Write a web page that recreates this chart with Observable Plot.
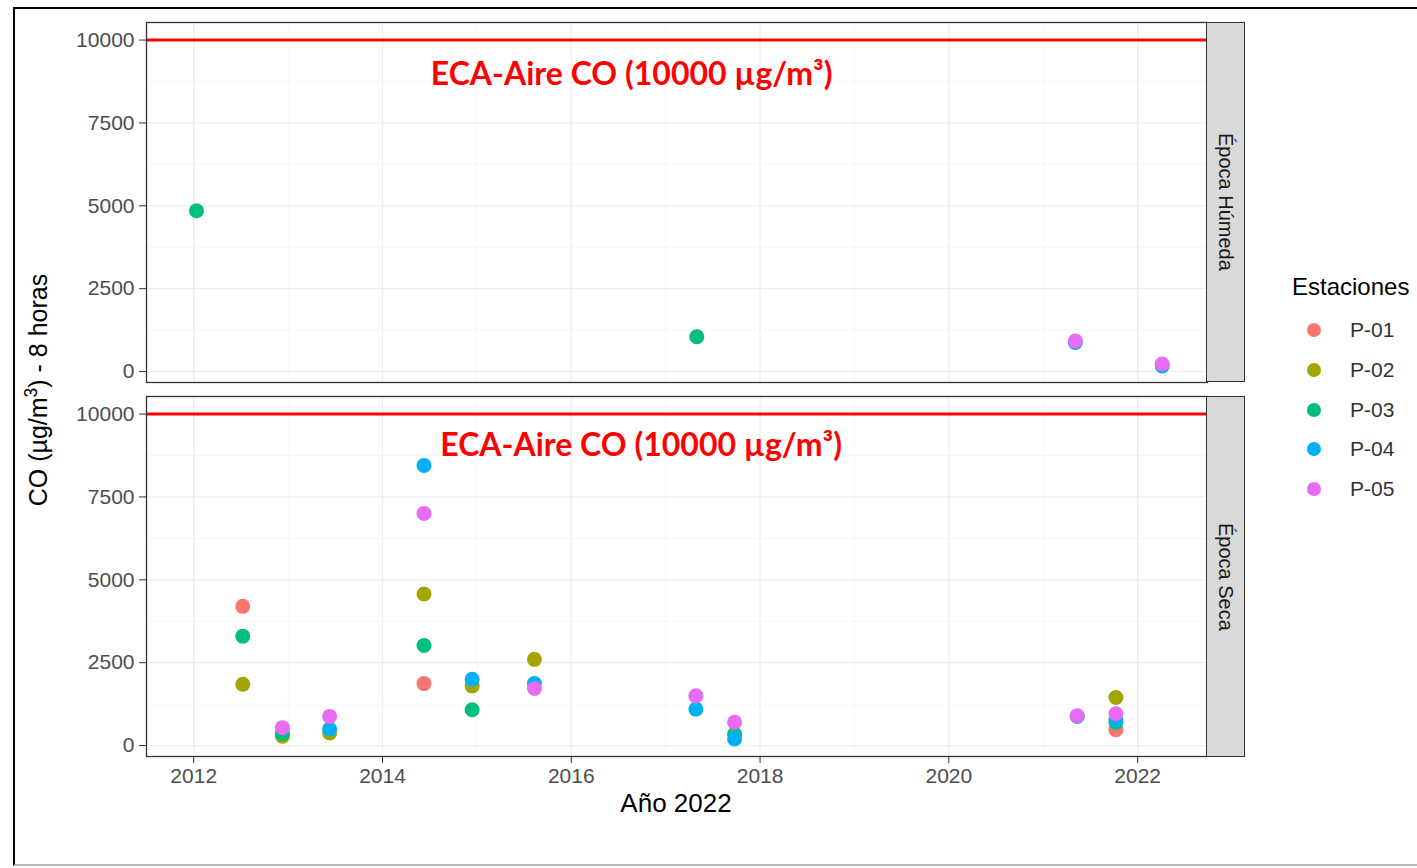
<!DOCTYPE html>
<html><head><meta charset="utf-8">
<script src="https://cdn.jsdelivr.net/npm/d3@7"></script>
<script src="https://cdn.jsdelivr.net/npm/@observablehq/plot@0.6"></script>
<style>
body{margin:0;background:#fff;}
#wrap{position:relative;width:1417px;height:868px;overflow:hidden;font-family:"Liberation Sans",Arial,sans-serif;background:#fff;}
#wrap svg{position:absolute;left:0;top:0;}
.abs{position:absolute;}
.strip{position:absolute;background:#D9D9D9;border:1.3px solid #333;box-sizing:border-box;display:flex;align-items:center;justify-content:center;}
.strip span{writing-mode:vertical-rl;font-size:20px;color:#1A1A1A;white-space:nowrap;}
</style></head><body><div id="wrap"></div>
<script>
// ---- data ----
const stations = ["P-01", "P-02", "P-03", "P-04", "P-05"];
const stationColors = ["#F8766D", "#A3A500", "#00BF7D", "#00B0F6", "#E76BF3"];
const seasons = ["Época Húmeda", "Época Seca"];

const humedaYears = [2012.03, 2017.33, 2021.34, 2022.26];
const humedaP01 = [null, null, null, null];
const humedaP02 = [null, null, null, null];
const humedaP03 = [4850, 1050, null, null];
const humedaP04 = [null, null, 880, 170];
const humedaP05 = [null, null, 920, 230];

const secaYears = [2012.52, 2012.94, 2013.44, 2014.44, 2014.95, 2015.61, 2017.32, 2017.73, 2021.36, 2021.77];
const secaP01 = [4200, null, null, 1870, null, null, null, null, null, 480];
const secaP02 = [1850, 280, 380, 4570, 1800, 2600, null, null, null, 1450];
const secaP03 = [3300, 360, null, 3020, 1080, null, null, 350, null, 700];
const secaP04 = [null, null, 500, 8450, 2000, 1870, 1100, 200, 880, 780];
const secaP05 = [null, 540, 880, 7000, null, 1720, 1500, 700, 900, 960];

const limitValue = 10000;
const limitLabel = "ECA-Aire CO (10000 µg/m³)";
const annotSeason = ["Época Húmeda", "Época Seca"];
const annotX = [2016.64, 2016.74];
const annotY = [8940, 9040];

const xTicks = [2012, 2014, 2016, 2018, 2020, 2022];
const xMinor = [2013, 2015, 2017, 2019, 2021];
const yTicks = [0, 2500, 5000, 7500, 10000];
const yMinor = [1250, 3750, 6250, 8750];

// ---- build tables ----
const humedaVals = [humedaP01, humedaP02, humedaP03, humedaP04, humedaP05];
const secaVals = [secaP01, secaP02, secaP03, secaP04, secaP05];
const rows = [];
stations.forEach((st, k) => {
  humedaVals[k].forEach((v, i) => { if (v != null) rows.push({season: seasons[0], station: st, year: humedaYears[i], value: v}); });
  secaVals[k].forEach((v, i) => { if (v != null) rows.push({season: seasons[1], station: st, year: secaYears[i], value: v}); });
});
rows.sort((a, b) => stations.indexOf(a.station) - stations.indexOf(b.station));
const annot = annotSeason.map((s, i) => ({season: s, x: annotX[i], y: annotY[i], label: limitLabel}));

const chart = Plot.plot({
  width: 1417, height: 868,
  marginLeft: 146, marginRight: 210, marginTop: 22, marginBottom: 111,
  style: {fontFamily: "'Liberation Sans', Arial, sans-serif", background: "transparent", overflow: "visible"},
  x: {domain: [2011.5, 2022.74]},
  y: {domain: [-330, 10530]},
  fy: {domain: seasons, paddingInner: 0.0374, paddingOuter: 0, axis: null, label: null},
  color: {domain: stations, range: stationColors},
  marks: [
    Plot.gridX(xMinor, {stroke: "#F5F5F5", strokeOpacity: 1, strokeWidth: 0.8}),
    Plot.gridY(yMinor, {stroke: "#F5F5F5", strokeOpacity: 1, strokeWidth: 0.8}),
    Plot.gridX(xTicks, {stroke: "#EEEEEE", strokeOpacity: 1, strokeWidth: 1.3}),
    Plot.gridY(yTicks, {stroke: "#EEEEEE", strokeOpacity: 1, strokeWidth: 1.3}),
    Plot.dot(rows, {x: "year", y: "value", fy: "season", fill: "station", r: 7.5}),
    Plot.ruleY([limitValue], {stroke: "#F00", strokeWidth: 3}),
    Plot.text(annot, {x: "x", y: "y", fy: "season", text: "label", fill: "#F00", fontSize: 32, fontWeight: "bold", fontFamily: "Lato"}),
    Plot.frame({stroke: "#333", strokeWidth: 1.3}),
    Plot.axisY(yTicks, {tickSize: 7, tickPadding: 5, fontSize: 21, fill: "#4D4D4D", stroke: "#333", tickFormat: "d", label: null}),
    Plot.axisX(xTicks, {tickSize: 7, tickPadding: 5, fontSize: 21, fill: "#4D4D4D", stroke: "#333", tickFormat: "d", label: null})
  ]
});

const wrap = document.getElementById("wrap");
wrap.appendChild(chart);

// outer border
const border = document.createElement("div");
border.className = "abs";
Object.assign(border.style, {left: "13px", top: "7px", width: "1420px", height: "859px", borderLeft: "2px solid #000", borderTop: "2px solid #000", borderBottom: "2px solid #BBB", boxSizing: "border-box"});
wrap.appendChild(border);

// facet strips
const strips = [{top: 22, h: 360}, {top: 396, h: 361}];
seasons.forEach((s, i) => {
  const d = document.createElement("div");
  d.className = "strip";
  Object.assign(d.style, {left: "1206px", top: strips[i].top + "px", width: "39px", height: strips[i].h + "px"});
  const sp = document.createElement("span");
  sp.textContent = s;
  d.appendChild(sp);
  wrap.appendChild(d);
});

// axis titles
const yl = document.createElement("div");
yl.className = "abs";
yl.innerHTML = "CO (µg/m<sup style='font-size:0.7em'>3</sup>) - 8 horas";
Object.assign(yl.style, {left: "37px", top: "390px", fontSize: "25px", color: "#000", whiteSpace: "nowrap", transform: "translate(-50%,-50%) rotate(-90deg)"});
wrap.appendChild(yl);

const xl = document.createElement("div");
xl.className = "abs";
xl.textContent = "Año 2022";
Object.assign(xl.style, {left: "676px", top: "803px", fontSize: "26px", color: "#000", whiteSpace: "nowrap", transform: "translate(-50%,-50%)"});
wrap.appendChild(xl);

// legend
const lt = document.createElement("div");
lt.className = "abs";
lt.textContent = "Estaciones";
Object.assign(lt.style, {left: "1292px", top: "287px", fontSize: "24px", color: "#000", whiteSpace: "nowrap", transform: "translateY(-50%)"});
wrap.appendChild(lt);
stations.forEach((st, i) => {
  const cy = 330 + i * 39.8;
  const dot = document.createElement("div");
  dot.className = "abs";
  Object.assign(dot.style, {left: (1314 - 7) + "px", top: (cy - 7) + "px", width: "14px", height: "14px", borderRadius: "50%", background: stationColors[i]});
  wrap.appendChild(dot);
  const lab = document.createElement("div");
  lab.className = "abs";
  lab.textContent = st;
  Object.assign(lab.style, {left: "1350px", top: cy + "px", fontSize: "21px", color: "#333", whiteSpace: "nowrap", transform: "translateY(-50%)"});
  wrap.appendChild(lab);
});
</script></body></html>
